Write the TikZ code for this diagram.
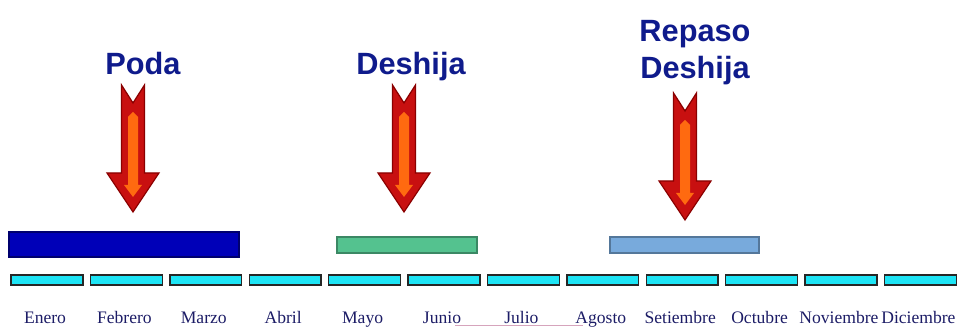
\documentclass[tikz,border=0pt]{standalone}
\usepackage{fontspec}
\setmainfont{Liberation Serif}
\setsansfont{Liberation Sans}
\usepackage{tikz}

\definecolor{titulo}{HTML}{0F1B8C}
\definecolor{mestexto}{HTML}{1C1C66}
\definecolor{podaazul}{HTML}{0000B8}
\definecolor{deshijaverde}{HTML}{54C28F}
\definecolor{repasoazul}{HTML}{78AADC}
\definecolor{mescian}{HTML}{1DE4F5}
\definecolor{flecharoja}{HTML}{C81010}
\definecolor{flechaborde}{HTML}{8A0000}
\definecolor{flechanaranja}{HTML}{FF6A10}
\definecolor{rosa}{HTML}{D6A4BC}

\tikzset{
  mesbox/.style={draw=black!85, fill=mescian, line width=0.8pt,
    minimum width=1.44cm, minimum height=0.2cm, inner sep=0pt},
  meslabel/.style={text=mestexto, font=\fontsize{10}{12}\selectfont,
    inner sep=0pt, anchor=base},
  tarea/.style={text=titulo, inner sep=0pt, align=center,
    font=\sffamily\bfseries\fontsize{17.5}{20.8}\selectfont},
  pics/flecha/.style={code={
    \filldraw[fill=flecharoja, draw=flechaborde, line width=0.7pt]
      (-11.5,0) -- (0,18) -- (11.5,0) -- (11.5,88) -- (26,88)
      -- (0,127) -- (-26,88) -- (-11.5,88) -- cycle;
    \fill[flechanaranja] (-5,32) -- (0,27) -- (5,32) -- (5,100) -- (9,100)
      -- (0,112) -- (-9,100) -- (-5,100) -- cycle;
  }}
}

\begin{document}
\begin{tikzpicture}[x=0.02cm, y=-0.02cm]
	\useasboundingbox (0,0) rectangle (958,327);

	% titulos
	\node[tarea, anchor=base] (poda) at (143,75) {Poda};
	\node[tarea, anchor=base] (deshija) at (411,75) {Deshija};
	\node[tarea, anchor=north] (repaso) at (695,20) {Repaso\\Deshija};

	% flechas
	\pic at (133,85) {flecha};
	\pic at (404,85) {flecha};
	\pic at (685,93) {flecha};

	% barras
	\filldraw[fill=podaazul, draw=podaazul!60!black, line width=0.6pt] (9,232) rectangle (239,257);
	\filldraw[fill=deshijaverde, draw=deshijaverde!70!black, line width=0.6pt] (337,237) rectangle (477,253);
	\filldraw[fill=repasoazul, draw=repasoazul!70!black, line width=0.6pt] (610,237) rectangle (759,253);

	% meses
	\foreach \mes [count=\i] in {Enero,Febrero,Marzo,Abril,Mayo,Junio,Julio,Agosto,Setiembre,Octubre,Noviembre,Diciembre}{
		\node[mesbox] (m\i) at ({47+79.4*(\i-1)},280) {};
		\node[meslabel] (l\i) at ({45+79.4*(\i-1)},324) {\mes};
	}

	\draw[rosa, line width=0.5pt] (455,325.5) -- (583,325.5);
\end{tikzpicture}
\end{document}
